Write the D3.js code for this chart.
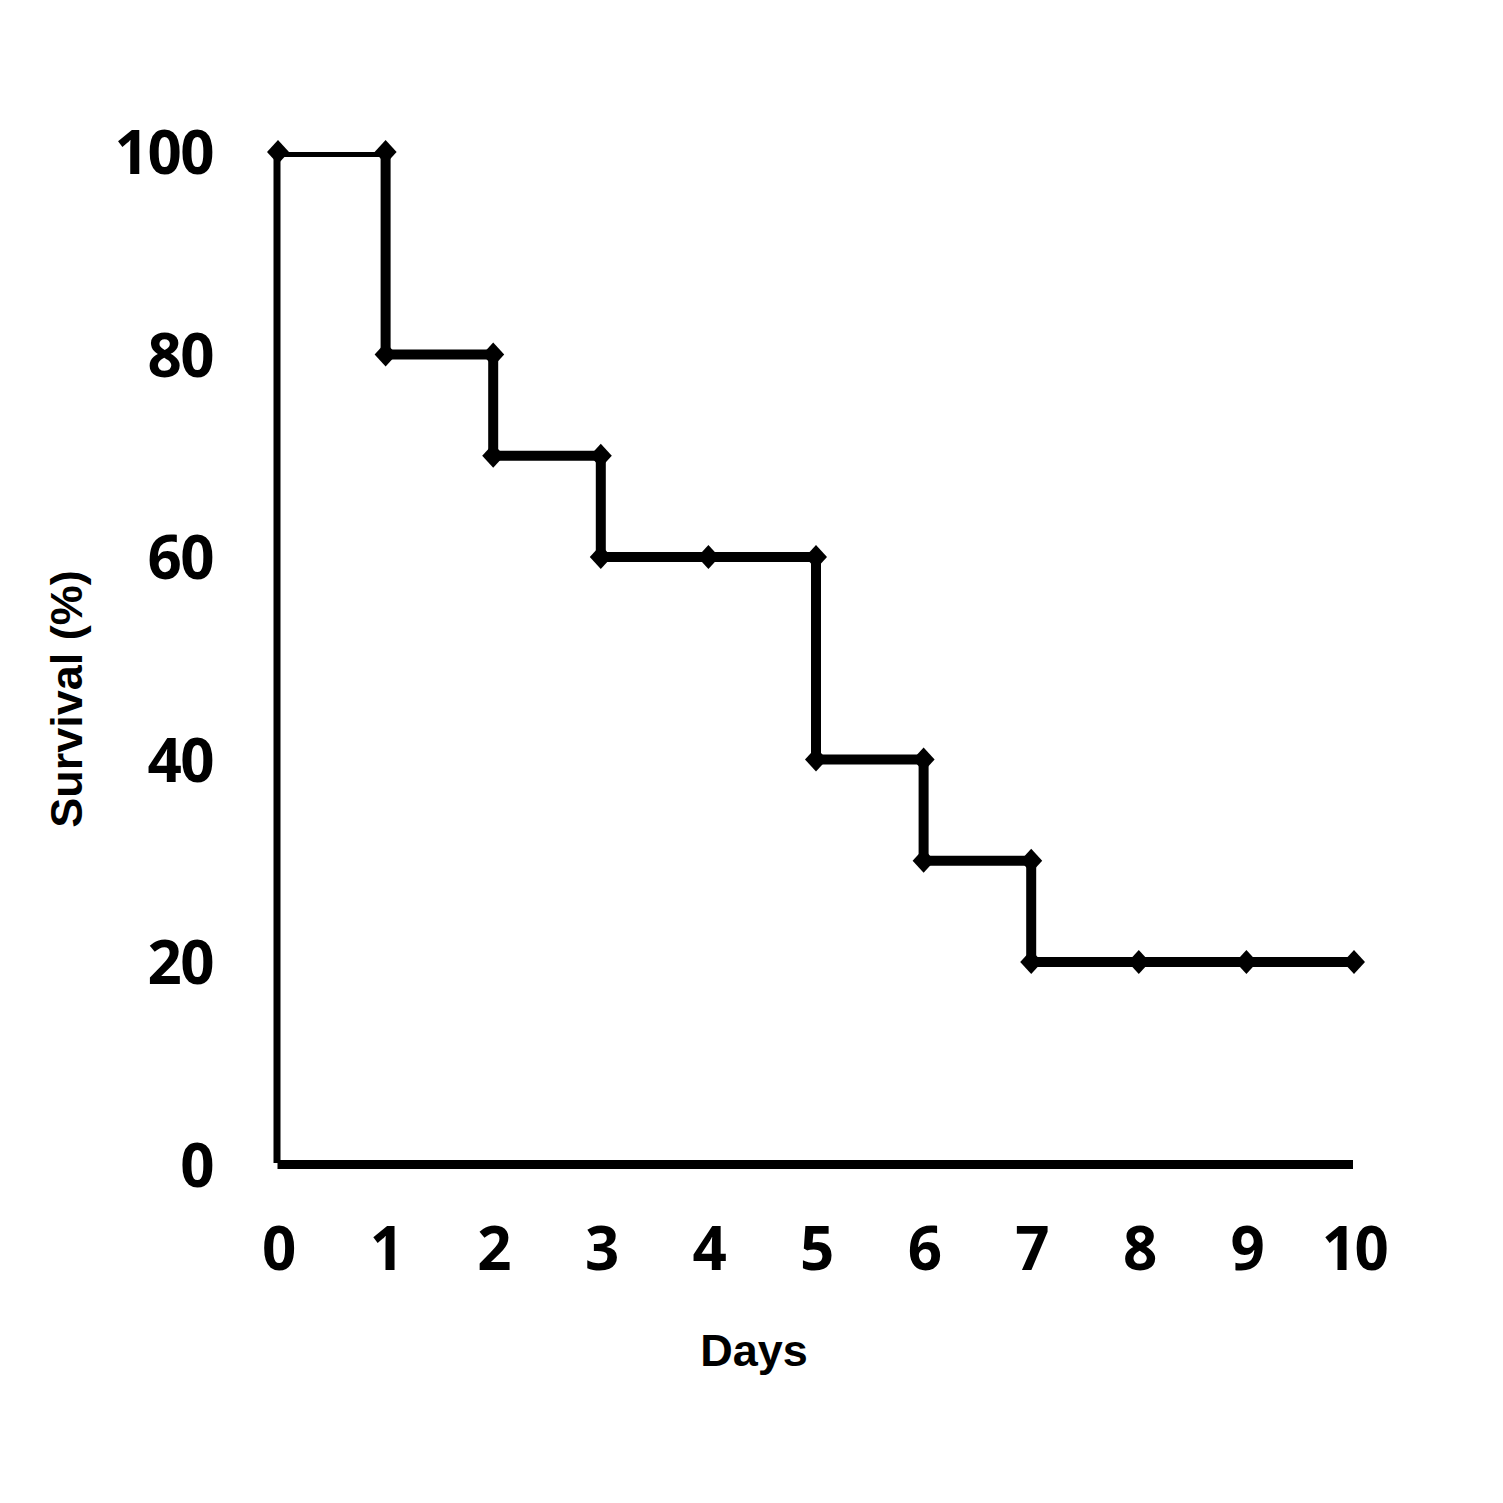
<!DOCTYPE html>
<html>
<head>
<meta charset="utf-8">
<script src="https://cdn.jsdelivr.net/npm/d3@7"></script>
<style>
  html, body { margin: 0; padding: 0; background: #fff; }
  svg { display: block; }
</style>
</head>
<body>
<script>
// Data
const days = [0, 1, 2, 3, 4, 5, 6, 7, 8, 9, 10];
const survival = [100, 80, 70, 60, 60, 40, 30, 20, 20, 20, 20];
const xTicks = [0, 1, 2, 3, 4, 5, 6, 7, 8, 9, 10];
const yTicks = [0, 20, 40, 60, 80, 100];
const xTitle = "Days";
const yTitle = "Survival (%)";

const W = 1503, H = 1503;
const svg = d3.select("body").append("svg").attr("width", W).attr("height", H);

const x = d3.scaleLinear().domain([0, 10]).range([278, 1354]);
const y = d3.scaleLinear().domain([0, 100]).range([1164.5, 152]);

// clip for the line (plot area)
svg.append("defs").append("clipPath").attr("id", "plotclip")
  .append("rect")
  .attr("x", x(0) - 20).attr("y", y(100))
  .attr("width", x(10) - x(0) + 40).attr("height", y(0) - y(100) + 20);

// Step vertices
const verts = [];
days.forEach((d, i) => {
  if (i > 0 && survival[i] !== survival[i - 1]) verts.push([d, survival[i - 1]]);
  verts.push([d, survival[i]]);
});

const line = d3.line().x(d => x(d[0])).y(d => y(d[1]));
svg.append("path")
  .datum(verts)
  .attr("clip-path", "url(#plotclip)")
  .attr("d", line)
  .attr("fill", "none")
  .attr("stroke", "#000")
  .attr("stroke-width", 10)
  .attr("stroke-linejoin", "miter")
  .attr("stroke-linecap", "square");

// Axes
const yAxis = d3.axisLeft(y).tickValues(yTicks).tickSize(0).tickPadding(64).tickSizeOuter(0);
const gy = svg.append("g").attr("transform", `translate(${x(0) - 1},0)`).call(yAxis);
gy.select(".domain").attr("stroke", "#000").attr("stroke-width", 7)
  .attr("d", `M0,${y(100)}V${y(0) - 1.5}`);
gy.selectAll(".tick text")
  .attr("font-family", "'Open Sans', sans-serif")
  .attr("font-weight", "bold")
  .attr("font-size", 60)
  .attr("letter-spacing", -1.5)
  .attr("fill", "#000")
  .attr("dy", "0.36em");

const xAxis = d3.axisBottom(x).tickValues(xTicks).tickFormat(d3.format("d")).tickSize(0).tickSizeOuter(0);
const gx = svg.append("g").attr("transform", `translate(0,${y(0)})`).call(xAxis);
gx.select(".domain").attr("stroke", "#000").attr("stroke-width", 9)
  .attr("d", `M${x(0) - 0.5},0H${x(10) - 1}`);
gx.selectAll(".tick text")
  .attr("font-family", "'Open Sans', sans-serif")
  .attr("font-weight", "bold")
  .attr("font-size", 60)
  .attr("letter-spacing", -1.5)
  .attr("fill", "#000")
  .attr("y", 105)
  .attr("dy", 0);

// Markers
const diamond = {
  draw(ctx, size) {
    const rx = 11, ry = 12;
    ctx.moveTo(0, -ry); ctx.lineTo(rx, 0); ctx.lineTo(0, ry); ctx.lineTo(-rx, 0); ctx.closePath();
  }
};
svg.append("g").selectAll("path")
  .data(verts)
  .join("path")
  .attr("transform", d => `translate(${x(d[0])},${y(d[1])})`)
  .attr("d", d3.symbol().type(diamond).size(100))
  .attr("fill", "#000");

// Titles
svg.append("text")
  .attr("x", 754).attr("y", 1366)
  .attr("text-anchor", "middle")
  .attr("font-family", "'Liberation Sans', Arial, sans-serif")
  .attr("font-weight", "bold")
  .attr("font-size", 45)
  .attr("fill", "#000")
  .text(xTitle);

svg.append("text")
  .attr("transform", "translate(82,699) rotate(-90)")
  .attr("text-anchor", "middle")
  .attr("font-family", "'Liberation Sans', Arial, sans-serif")
  .attr("font-weight", "bold")
  .attr("font-size", 45)
  .attr("fill", "#000")
  .text(yTitle);
</script>
</body>
</html>
